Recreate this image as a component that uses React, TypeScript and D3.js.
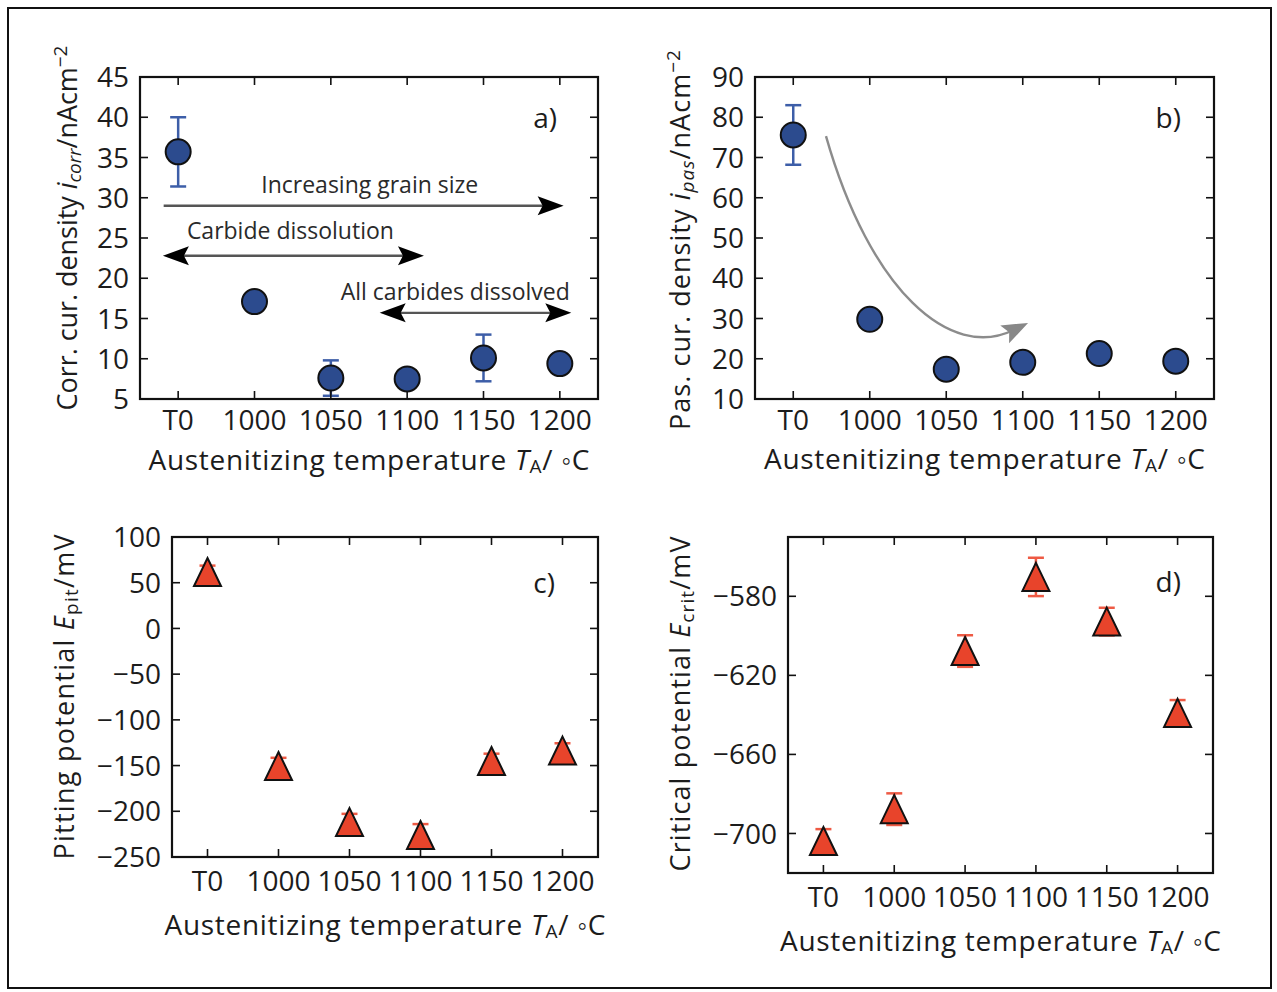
import React from "react";
import * as d3 from "d3";

// Austenitizing temperature categories (T0 = as-delivered state)
const categories = ["T0", "1000", "1050", "1100", "1150", "1200"];

// a) corrosion current density i_corr / nA cm^-2
const icorrValues = [35.7, 17.1, 7.6, 7.5, 10.1, 9.4];
const icorrErrors = [4.3, 0.8, 2.2, 0.8, 2.9, 0.8];
const icorrTicks = [5, 10, 15, 20, 25, 30, 35, 40, 45];

// b) passive current density i_pas / nA cm^-2
const ipasValues = [75.6, 29.8, 17.4, 19.1, 21.3, 19.4];
const ipasErrors = [7.4, 1.5, 1.5, 1.5, 1.5, 1.5];
const ipasTicks = [10, 20, 30, 40, 50, 60, 70, 80, 90];

// c) pitting potential E_pit / mV
const epitValues = [61.7, -150.5, -211.8, -226, -145, -133.6];
const epitErrors = [7, 9, 9, 12, 8, 8];
const epitTicks = [100, 50, 0, -50, -100, -150, -200, -250];

// d) critical potential E_crit / mV
const ecritValues = [-703.8, -687.7, -607.7, -570.2, -592.8, -639];
const ecritErrors = [6, 8, 8, 9.7, 7, 6.5];
const ecritTicks = [-580, -620, -660, -700];

const FONT = "'Open Sans', 'Noto Sans', sans-serif";
const TEXT = "#1c1c1c";
const BLUE = "#2c4b8e";
const BLUE_ERR = "#3d5ea8";
const RED = "#e8442b";
const RED_ERR = "#ee5a44";
const TICK_FS = 28;
const TITLE_FS = 28;
const YLABEL_FS = 27;
const SUB_FS = 19;

const fmt = (v: number) => (v < 0 ? "\u2212" + Math.abs(v) : String(v));

type Frame = { x0: number; x1: number; y0: number; y1: number };

type PanelProps = {
  frame: Frame;
  yDomain: [number, number];
  yTicks: number[];
  values: number[];
  errors: number[];
  marker: "circle" | "triangle";
  letter: string;
  letterDx: number;
  letterDy: number;
  tickLabelOffset: number;
  titleOffset: number;
  yLabelX: number;
  yLabelY: number;
  yLabelLen: number;
  yLabel: React.ReactNode;
  children?: (
    x: d3.ScaleLinear<number, number>,
    y: d3.ScaleLinear<number, number>
  ) => React.ReactNode;
};

function Panel(p: PanelProps) {
  const { x0, x1, y0, y1 } = p.frame;
  const x = d3.scaleLinear().domain([-0.5, categories.length - 0.5]).range([x0, x1]);
  const y = d3.scaleLinear().domain(p.yDomain).range([y1, y0]);
  const tl = 8;
  const isCircle = p.marker === "circle";
  const errColor = isCircle ? BLUE_ERR : RED_ERR;
  const tri = (cx: number, cy: number) => {
    const hw = 13.5;
    const hh = 14;
    return `M${cx},${cy - hh}L${cx + hw},${cy + hh}L${cx - hw},${cy + hh}Z`;
  };
  return (
    <g>
      {/* error bars */}
      {categories.map((c, i) => {
        const cx = x(i);
        const top = y(p.values[i] + p.errors[i]);
        const bot = y(p.values[i] - p.errors[i]);
        return (
          <g key={"e" + c} stroke={errColor} strokeWidth={2.5}>
            <line x1={cx} x2={cx} y1={top} y2={bot} />
            <line x1={cx - 8} x2={cx + 8} y1={top} y2={top} />
            <line x1={cx - 8} x2={cx + 8} y1={bot} y2={bot} />
          </g>
        );
      })}
      {/* markers */}
      {categories.map((c, i) =>
        isCircle ? (
          <circle
            key={"m" + c}
            cx={x(i)}
            cy={y(p.values[i])}
            r={12.5}
            fill={BLUE}
            stroke="#111"
            strokeWidth={2}
          />
        ) : (
          <path
            key={"m" + c}
            d={tri(x(i), y(p.values[i]))}
            fill={RED}
            stroke="#111"
            strokeWidth={2}
            strokeLinejoin="miter"
          />
        )
      )}
      {/* frame */}
      <rect x={x0} y={y0} width={x1 - x0} height={y1 - y0} fill="none" stroke="#111" strokeWidth={2.2} />
      {/* ticks inward on all four sides */}
      {categories.map((c, i) => (
        <g key={"xt" + c} stroke="#111" strokeWidth={1.6}>
          <line x1={x(i)} x2={x(i)} y1={y1} y2={y1 - tl} />
          <line x1={x(i)} x2={x(i)} y1={y0} y2={y0 + tl} />
        </g>
      ))}
      {p.yTicks.map((t) => (
        <g key={"yt" + t} stroke="#111" strokeWidth={1.6}>
          <line x1={x0} x2={x0 + tl} y1={y(t)} y2={y(t)} />
          <line x1={x1} x2={x1 - tl} y1={y(t)} y2={y(t)} />
        </g>
      ))}
      {/* tick labels */}
      {categories.map((c, i) => (
        <text
          key={"xl" + c}
          x={x(i)}
          y={y1 + p.tickLabelOffset}
          textAnchor="middle"
          fontSize={TICK_FS}
          fill={TEXT}
        >
          {c}
        </text>
      ))}
      {p.yTicks.map((t) => (
        <text
          key={"yl" + t}
          x={x0 - 11}
          y={y(t)}
          dy="0.36em"
          textAnchor="end"
          fontSize={TICK_FS}
          fill={TEXT}
        >
          {fmt(t)}
        </text>
      ))}
      {/* axis titles */}
      <text
        x={(x0 + x1) / 2}
        y={y1 + p.titleOffset}
        textAnchor="middle"
        fontSize={TITLE_FS}
        fill={TEXT}
        textLength={441}
        lengthAdjust="spacing"
      >
        Austenitizing temperature <tspan fontStyle="italic">T</tspan>
        <tspan fontSize={SUB_FS} dy={3}>A</tspan>
        <tspan dy={-3}>/ {"\u25E6"}C</tspan>
      </text>
      <text
        transform={`translate(${p.yLabelX},${p.yLabelY}) rotate(-90)`}
        textAnchor="middle"
        fontSize={YLABEL_FS}
        fill={TEXT}
        textLength={p.yLabelLen}
        lengthAdjust="spacing"
      >
        {p.yLabel}
      </text>
      {/* panel letter */}
      <text
        x={x1 - p.letterDx}
        y={y0 + p.letterDy}
        dy="0.36em"
        textAnchor="end"
        fontSize={TICK_FS}
        fill={TEXT}
      >
        {p.letter}
      </text>
      {p.children ? p.children(x, y) : null}
    </g>
  );
}

function arrowHead(tipX: number, tipY: number, angle: number, len: number, hw: number) {
  const ca = Math.cos(angle);
  const sa = Math.sin(angle);
  const bx = tipX - ca * len;
  const by = tipY - sa * len;
  return `M${tipX},${tipY}L${bx - sa * hw},${by + ca * hw}L${bx + ca * 5},${by + sa * 5}L${bx + sa * hw},${by - ca * hw}Z`;
}

// Straight annotation arrows in panel a (data coordinates: category index, i_corr)
const grainArrow = { from: -0.19, to: 5.05, at: 29 };
const carbideArrow = { from: -0.2, to: 3.22, at: 22.8 };
const dissolvedArrow = { from: 2.64, to: 5.15, at: 15.7 };

function StraightArrow({
  x,
  y,
  a,
  both,
}: {
  x: d3.ScaleLinear<number, number>;
  y: d3.ScaleLinear<number, number>;
  a: { from: number; to: number; at: number };
  both: boolean;
}) {
  const xa = x(a.from);
  const xb = x(a.to);
  const yy = y(a.at);
  const len = 26;
  return (
    <g>
      <line
        x1={both ? xa + 10 : xa}
        x2={xb - 10}
        y1={yy}
        y2={yy}
        stroke="#555"
        strokeWidth={2.4}
      />
      <path d={arrowHead(xb, yy, 0, len, 9.5)} fill="#000" />
      {both ? <path d={arrowHead(xa, yy, Math.PI, len, 9.5)} fill="#000" /> : null}
    </g>
  );
}

// Curved trend arrow in panel b (cubic Bezier control points in data coordinates)
const trendCurve: [number, number][] = [
  [0.428, 75.3],
  [1.003, 36.9],
  [2.049, 19.4],
  [3.069, 28.9],
];

export default function App() {
  return (
    <svg
      width={1277}
      height={992}
      style={{ position: "absolute", left: 0, top: 0, background: "#fff" }}
      fontFamily={FONT}
    >
      <rect x={8} y={8} width={1263} height={980} fill="#fff" stroke="#111" strokeWidth={2} />

      <Panel
        frame={{ x0: 140, x1: 598, y0: 77, y1: 399 }}
        yDomain={[5, 45]}
        yTicks={icorrTicks}
        values={icorrValues}
        errors={icorrErrors}
        marker="circle"
        letter="a)"
        letterDx={41}
        letterDy={41}
        tickLabelOffset={31}
        titleOffset={71}
        yLabelX={77}
        yLabelY={228}
        yLabelLen={365}
        yLabel={
          <>
            Corr. cur. density <tspan fontStyle="italic">i</tspan>
            <tspan fontSize={SUB_FS} fontStyle="italic" dy={4}>corr</tspan>
            <tspan dy={-4}>/nAcm</tspan>
            <tspan fontSize={SUB_FS} dy={-10}>{"\u22122"}</tspan>
          </>
        }
      >
        {(x, y) => (
          <g>
            <StraightArrow x={x} y={y} a={grainArrow} both={false} />
            <StraightArrow x={x} y={y} a={carbideArrow} both={true} />
            <StraightArrow x={x} y={y} a={dissolvedArrow} both={true} />
            <g fontSize={23} fill="#2a2a2a" textAnchor="middle">
              <text x={x(2.51)} y={y(31.6)} dy="0.36em">Increasing grain size</text>
              <text x={x(1.47)} y={y(25.9)} dy="0.36em">Carbide dissolution</text>
              <text x={x(3.63)} y={y(18.3)} dy="0.36em">All carbides dissolved</text>
            </g>
          </g>
        )}
      </Panel>

      <Panel
        frame={{ x0: 755, x1: 1214, y0: 77, y1: 399 }}
        yDomain={[10, 90]}
        yTicks={ipasTicks}
        values={ipasValues}
        errors={ipasErrors}
        marker="circle"
        letter="b)"
        letterDx={33}
        letterDy={41}
        tickLabelOffset={31}
        titleOffset={70}
        yLabelX={690}
        yLabelY={240}
        yLabelLen={380}
        yLabel={
          <>
            Pas. cur. density <tspan fontStyle="italic">i</tspan>
            <tspan fontSize={SUB_FS} fontStyle="italic" dy={4}>pas</tspan>
            <tspan dy={-4}>/nAcm</tspan>
            <tspan fontSize={SUB_FS} dy={-10}>{"\u22122"}</tspan>
          </>
        }
      >
        {(x, y) => {
          const pts = trendCurve.map(([a, b]) => [x(a), y(b)] as [number, number]);
          const [p0, c1, c2, p3] = pts;
          const ang = Math.atan2(p3[1] - c2[1], p3[0] - c2[0]);
          const sx = p3[0] - Math.cos(ang) * 16;
          const sy = p3[1] - Math.sin(ang) * 16;
          const path = d3.path();
          path.moveTo(p0[0], p0[1]);
          path.bezierCurveTo(c1[0], c1[1], c2[0], c2[1], sx, sy);
          return (
            <g>
              <path d={path.toString()} fill="none" stroke="#8c8c8c" strokeWidth={2.4} />
              <path d={arrowHead(p3[0], p3[1], ang, 26, 10)} fill="#888" />
            </g>
          );
        }}
      </Panel>

      <Panel
        frame={{ x0: 172, x1: 598, y0: 537, y1: 857 }}
        yDomain={[-250, 100]}
        yTicks={epitTicks}
        values={epitValues}
        errors={epitErrors}
        marker="triangle"
        letter="c)"
        letterDx={43}
        letterDy={46}
        tickLabelOffset={34}
        titleOffset={78}
        yLabelX={74}
        yLabelY={697}
        yLabelLen={325}
        yLabel={
          <>
            Pitting potential <tspan fontStyle="italic">E</tspan>
            <tspan fontSize={SUB_FS} dy={4}>pit</tspan>
            <tspan dy={-4}>/mV</tspan>
          </>
        }
      />

      <Panel
        frame={{ x0: 788, x1: 1213, y0: 537, y1: 873 }}
        yDomain={[-720, -550]}
        yTicks={ecritTicks}
        values={ecritValues}
        errors={ecritErrors}
        marker="triangle"
        letter="d)"
        letterDx={32}
        letterDy={45}
        tickLabelOffset={34}
        titleOffset={78}
        yLabelX={690}
        yLabelY={704}
        yLabelLen={335}
        yLabel={
          <>
            Critical potential <tspan fontStyle="italic">E</tspan>
            <tspan fontSize={SUB_FS} dy={4}>crit</tspan>
            <tspan dy={-4}>/mV</tspan>
          </>
        }
      />
    </svg>
  );
}
